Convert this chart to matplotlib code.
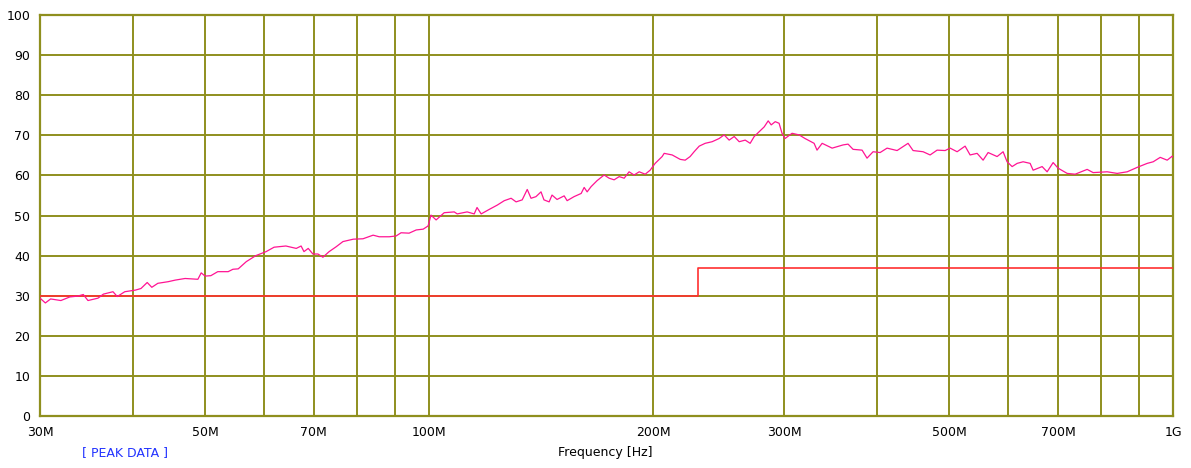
import matplotlib.pyplot as plt
from matplotlib.ticker import FixedLocator, NullLocator

# measured peak trace: frequency in MHz, level in dB
freq_mhz = [
    30.0, 30.5, 31.0, 32.0, 32.9, 33.7, 34.3, 34.8, 35.9, 36.5, 37.6, 38.1, 39.0,
    40.3, 41.0, 41.8, 42.4, 43.2, 44.6, 45.6, 47.0, 48.9, 49.4, 50.0, 50.9, 52.0,
    53.7, 54.5, 55.4, 56.8, 58.5, 60.4, 61.9, 64.2, 66.3, 67.3, 67.9, 68.8, 69.8,
    70.9, 72.0, 73.4, 75.0, 76.6, 79.1, 81.5, 84.1, 85.7, 88.4, 90.3, 91.7, 94.0,
    96.1, 98.2, 99.7, 100.6, 102.2, 104.8, 108.1, 109.1, 112.5, 115.0, 116.0,
    117.5, 120.4, 123.5, 126.2, 128.9, 130.9, 133.4, 135.5, 137.1, 139.2, 141.4,
    142.7, 145.0, 146.3, 148.6, 151.9, 153.3, 156.6, 160.1, 161.6, 163.1, 165.1,
    168.2, 171.9, 174.6, 177.3, 180.1, 182.9, 185.7, 188.6, 191.6, 195.2, 198.2,
    201.3, 205.7, 207.0, 212.2, 217.5, 220.9, 224.3, 227.1, 230.7, 235.0, 240.1,
    245.4, 249.2, 253.1, 257.1, 261.1, 266.0, 270.1, 273.5, 277.8, 282.1, 285.6,
    288.3, 291.9, 295.4, 298.1, 300.9, 307.5, 314.3, 320.1, 329.2, 332.2, 337.5,
    348.1, 360.1, 365.7, 371.4, 381.9, 387.8, 395.1, 403.8, 412.6, 425.6, 440.3,
    447.2, 461.3, 471.4, 481.7, 493.8, 501.5, 512.5, 525.3, 533.5, 545.2, 555.4,
    564.1, 580.0, 590.9, 598.2, 607.6, 617.1, 628.6, 642.4, 648.4, 666.7, 677.1,
    689.8, 700.5, 720.4, 738.4, 766.4, 780.7, 815.4, 841.1, 867.5, 894.7, 922.9,
    940.2, 960.8, 981.8, 997.2, 1000.0,
]
level_db = [
    29.4, 28.2, 29.2, 28.8, 29.7, 29.9, 30.3, 28.8, 29.4, 30.4, 31.0, 29.8, 31.0,
    31.4, 31.8, 33.3, 32.1, 33.1, 33.5, 33.9, 34.3, 34.1, 35.7, 34.9, 35.0, 36.0,
    36.0, 36.6, 36.7, 38.5, 40.0, 41.0, 42.1, 42.4, 41.8, 42.4, 41.0, 41.8, 40.4,
    40.4, 39.6, 41.0, 42.2, 43.5, 44.1, 44.2, 45.1, 44.7, 44.7, 44.9, 45.7, 45.6,
    46.4, 46.6, 47.4, 50.1, 48.9, 50.7, 50.9, 50.4, 50.9, 50.4, 52.0, 50.4, 51.5,
    52.6, 53.7, 54.3, 53.4, 53.9, 56.5, 54.3, 54.7, 55.9, 53.9, 53.4, 55.1, 54.0,
    54.9, 53.7, 54.7, 55.5, 57.0, 55.9, 57.2, 58.7, 60.1, 59.3, 58.9, 59.7, 59.3,
    60.9, 60.1, 60.9, 60.3, 61.3, 63.0, 64.7, 65.5, 65.1, 64.0, 63.8, 64.7, 65.9,
    67.3, 68.0, 68.4, 69.2, 70.1, 68.8, 69.7, 68.4, 68.8, 68.0, 69.7, 70.9, 72.1,
    73.6, 72.6, 73.4, 73.0, 70.5, 69.2, 70.5, 70.1, 69.2, 68.0, 66.3, 68.0, 66.8,
    67.6, 67.8, 66.5, 66.3, 64.3, 65.9, 65.7, 66.8, 66.2, 68.0, 66.2, 65.9, 65.1,
    66.3, 66.2, 66.8, 65.9, 67.3, 65.1, 65.5, 63.8, 65.7, 64.7, 65.9, 63.4, 62.2,
    63.0, 63.4, 63.0, 61.3, 62.2, 60.9, 63.2, 61.8, 60.5, 60.3, 61.5, 60.7, 60.9,
    60.5, 60.9, 62.0, 63.0, 63.4, 64.5, 63.8, 64.8, 64.5,
]

# limit line (step at 230 MHz)
limit_freq = [30, 230, 230, 1000]
limit_db = [30, 30, 37, 37]

grid_freqs = [40, 50, 60, 70, 80, 90, 100, 200, 300, 400, 500, 600, 700, 800, 900]
label_freqs = [30, 50, 70, 100, 200, 300, 500, 700, 1000]
label_text = ["30M", "50M", "70M", "100M", "200M", "300M", "500M", "700M", "1G"]

olive = "#8f8f1e"

fig = plt.figure(figsize=(11.91, 4.68), dpi=100)
ax = fig.add_axes([0.0336, 0.111, 0.9514, 0.857])

ax.set_xscale("log")
ax.set_xlim(30, 1000)
ax.set_ylim(0, 100)

for f in grid_freqs:
    ax.axvline(f, color=olive, lw=1.4, zorder=1)
for v in range(10, 100, 10):
    ax.axhline(v, color=olive, lw=1.4, zorder=1)

ax.plot(limit_freq, limit_db, color="#ff3030", lw=1.2, zorder=3)
ax.plot(freq_mhz, level_db, color="#ff1493", lw=0.9, zorder=4)

for s in ax.spines.values():
    s.set_color(olive)
    s.set_linewidth(1.6)

ax.xaxis.set_major_locator(FixedLocator(label_freqs))
ax.xaxis.set_minor_locator(NullLocator())
ax.set_xticklabels(label_text)
ax.set_yticks(range(0, 101, 10))
ax.tick_params(length=0, labelsize=9, pad=7)

fig.text(0.508, 0.02, "Frequency [Hz]", ha="center", va="bottom", fontsize=9)
fig.text(0.105, 0.02, "[ PEAK DATA ]", ha="center", va="bottom", fontsize=9, color="#2233ff")

fig.savefig("out.png", dpi=100)
